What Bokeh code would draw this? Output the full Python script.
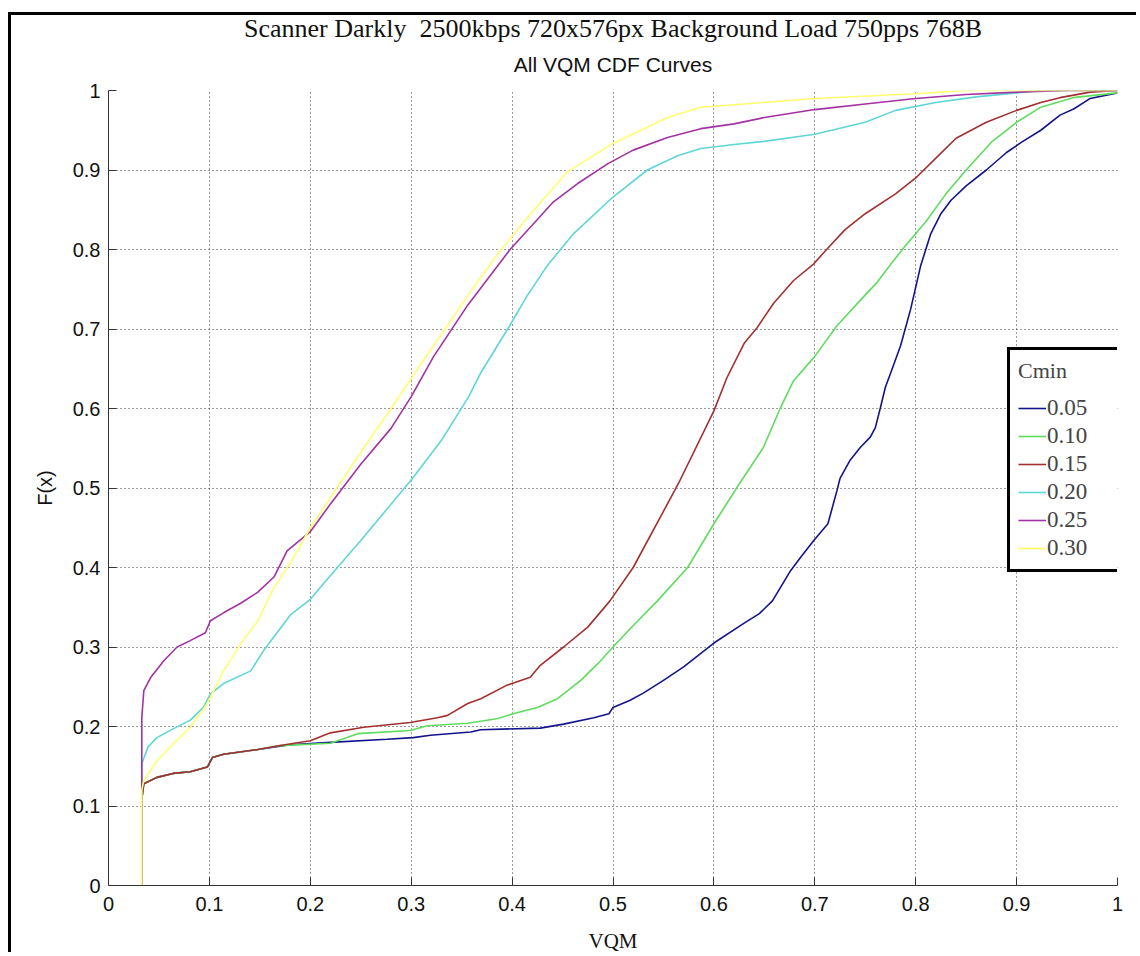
from bokeh.plotting import figure
from bokeh.models import Legend, LegendItem, Title, FixedTicker
from bokeh.embed import file_html
from bokeh.resources import INLINE

# ---- data ----
series_labels = ["0.05", "0.10", "0.15", "0.20", "0.25", "0.30"]
series_colors = ["#14148a", "#5fdc5f", "#a33030", "#5fd6d6", "#a232a2", "#ffff6e"]

x05 = [0.033, 0.033, 0.035, 0.048, 0.064, 0.081, 0.098, 0.103, 0.114, 0.148, 0.18, 0.22, 0.276, 0.302,
       0.319, 0.359, 0.369, 0.428, 0.451, 0.481, 0.496, 0.50, 0.517, 0.53, 0.55, 0.57, 0.6, 0.63, 0.645,
       0.658, 0.676, 0.686, 0.699, 0.713, 0.722, 0.725, 0.735, 0.745, 0.755, 0.76, 0.765, 0.77, 0.775,
       0.785, 0.795, 0.805, 0.815, 0.825, 0.835, 0.85, 0.87, 0.89, 0.905, 0.924, 0.943, 0.957, 0.973, 1.0]
y05 = [0, 0.109, 0.128, 0.136, 0.141, 0.143, 0.149, 0.161, 0.165, 0.171, 0.177, 0.18, 0.184, 0.186,
       0.189, 0.193, 0.196, 0.198, 0.203, 0.211, 0.216, 0.224, 0.233, 0.242, 0.258, 0.275, 0.305, 0.33, 0.342,
       0.358, 0.396, 0.413, 0.434, 0.455, 0.497, 0.512, 0.535, 0.551, 0.564, 0.576, 0.601, 0.627, 0.644,
       0.679, 0.725, 0.78, 0.82, 0.845, 0.862, 0.88, 0.9, 0.922, 0.935, 0.95, 0.969, 0.977, 0.99, 0.997]

x10 = [0.033, 0.033, 0.035, 0.048, 0.064, 0.081, 0.098, 0.103, 0.114, 0.148, 0.17, 0.22, 0.247, 0.299,
       0.316, 0.356, 0.386, 0.401, 0.425, 0.445, 0.468, 0.485, 0.50, 0.517, 0.544, 0.574, 0.60, 0.623,
       0.649, 0.666, 0.679, 0.699, 0.722, 0.745, 0.762, 0.778, 0.79, 0.81, 0.83, 0.85, 0.875, 0.90,
       0.924, 0.956, 1.0]
y10 = [0, 0.109, 0.128, 0.136, 0.141, 0.143, 0.149, 0.161, 0.165, 0.171, 0.176, 0.179, 0.191, 0.195,
       0.201, 0.204, 0.21, 0.216, 0.224, 0.235, 0.258, 0.279, 0.30, 0.323, 0.358, 0.40, 0.455, 0.501,
       0.551, 0.601, 0.635, 0.664, 0.704, 0.736, 0.759, 0.786, 0.805, 0.835, 0.87, 0.9, 0.935, 0.96,
       0.979, 0.991, 0.997]

x15 = [0.033, 0.033, 0.035, 0.048, 0.064, 0.081, 0.098, 0.103, 0.114, 0.148, 0.17, 0.2, 0.22, 0.253,
       0.299, 0.326, 0.336, 0.356, 0.369, 0.395, 0.418, 0.428, 0.451, 0.475, 0.497, 0.52, 0.565, 0.60,
       0.613, 0.63, 0.643, 0.659, 0.679, 0.699, 0.711, 0.73, 0.75, 0.78, 0.80, 0.82, 0.84, 0.87, 0.9,
       0.924, 0.943, 0.973, 1.0]
y15 = [0, 0.109, 0.128, 0.136, 0.141, 0.143, 0.149, 0.161, 0.165, 0.171, 0.176, 0.182, 0.192, 0.199,
       0.205, 0.211, 0.214, 0.229, 0.235, 0.252, 0.262, 0.277, 0.30, 0.325, 0.358, 0.40, 0.506, 0.597,
       0.639, 0.682, 0.702, 0.732, 0.761, 0.782, 0.799, 0.825, 0.845, 0.87, 0.89, 0.915, 0.94, 0.96, 0.975,
       0.985, 0.991, 0.998, 1.0]

x20 = [0.033, 0.033, 0.039, 0.048, 0.064, 0.081, 0.094, 0.101, 0.114, 0.141, 0.154, 0.18, 0.2, 0.22,
       0.25, 0.3, 0.33, 0.357, 0.369, 0.398, 0.415, 0.435, 0.461, 0.50, 0.534, 0.564, 0.587, 0.62, 0.65,
       0.7, 0.75, 0.78, 0.82, 0.86, 0.9, 0.924, 1.0]
y20 = [0, 0.153, 0.174, 0.186, 0.197, 0.208, 0.224, 0.241, 0.254, 0.27, 0.296, 0.34, 0.36, 0.39,
       0.434, 0.51, 0.56, 0.615, 0.645, 0.705, 0.742, 0.78, 0.82, 0.866, 0.9, 0.918, 0.927, 0.932, 0.936,
       0.945, 0.96, 0.975, 0.985, 0.992, 0.997, 1.0, 1.0]

x25 = [0.033, 0.033, 0.035, 0.042, 0.055, 0.068, 0.081, 0.096, 0.101, 0.114, 0.131, 0.148, 0.164, 0.177,
       0.2, 0.22, 0.25, 0.28, 0.3, 0.322, 0.356, 0.398, 0.441, 0.465, 0.495, 0.52, 0.554, 0.587, 0.62,
       0.65, 0.7, 0.75, 0.8, 0.85, 0.9, 0.95, 1.0]
y25 = [0, 0.211, 0.245, 0.262, 0.283, 0.30, 0.308, 0.318, 0.333, 0.343, 0.355, 0.369, 0.388, 0.421,
       0.445, 0.48, 0.53, 0.575, 0.615, 0.665, 0.73, 0.8, 0.86, 0.883, 0.908, 0.925, 0.941, 0.952, 0.958,
       0.966, 0.976, 0.983, 0.99, 0.995, 0.998, 1.0, 1.0]

x30 = [0.033, 0.033, 0.035, 0.048, 0.064, 0.081, 0.098, 0.114, 0.131, 0.148, 0.164, 0.18, 0.2, 0.25,
       0.28, 0.309, 0.332, 0.356, 0.386, 0.415, 0.455, 0.498, 0.554, 0.587, 0.65, 0.7, 0.8, 0.85, 1.0]
y30 = [0, 0.12, 0.132, 0.157, 0.178, 0.199, 0.229, 0.27, 0.304, 0.333, 0.375, 0.405, 0.45, 0.545,
       0.6, 0.655, 0.697, 0.742, 0.795, 0.84, 0.898, 0.932, 0.966, 0.979, 0.985, 0.99, 0.996, 1.0, 1.0]

xs_all = [x05, x10, x15, x20, x25, x30]
ys_all = [y05, y10, y15, y20, y25, y30]

tick_vals = [0, 0.1, 0.2, 0.3, 0.4, 0.5, 0.6, 0.7, 0.8, 0.9, 1]

title1 = "Scanner Darkly\u00a0 2500kbps 720x576px Background Load 750pps 768B"
title2 = "All VQM CDF Curves"

# ---- figure ----
p = figure(width=1128, height=940, x_range=(0, 1), y_range=(0, 1),
           output_backend="svg", toolbar_location=None,
           min_border_left=97, min_border_right=22, min_border_top=75, min_border_bottom=70)
p.styles = {"border-left": "3px solid black", "border-top": "3px solid black",
            "position": "absolute", "left": "8px", "top": "12px"}

p.title.text = title1
p.title.text_font = "Liberation Serif"
p.title.text_font_size = "26px"
p.title.text_font_style = "normal"
p.title.align = "center"
p.title.text_color = "#111111"
p.title.text_line_height = 0.9
p.title.standoff = -14
p.add_layout(Title(text=title2, align="center", text_font="Liberation Sans",
                   text_font_size="21px", text_font_style="normal", text_color="#111111",
                   text_line_height=0.9, standoff=30), "above")

p.outline_line_color = None
p.background_fill_color = "white"
p.border_fill_color = "white"

for ax in (p.xaxis[0], p.yaxis[0]):
    ax.ticker = FixedTicker(ticks=tick_vals)
    ax.major_label_overrides = {0: "0", 1: "1"}
    ax.major_tick_in = 8
    ax.major_tick_out = 0
    ax.minor_tick_line_color = None
    ax.axis_line_color = "#333333"
    ax.major_tick_line_color = "#333333"
    ax.major_label_text_font = "Liberation Sans"
    ax.major_label_text_font_size = "20px"
    ax.major_label_text_color = "#111111"
    ax.axis_label_text_font_style = "normal"
    ax.axis_label_text_color = "#111111"

p.xaxis.axis_label = "VQM"
p.xaxis.axis_label_text_font = "Liberation Serif"
p.xaxis.axis_label_text_font_size = "21px"
p.xaxis.major_label_standoff = 11
p.xaxis.axis_label_standoff = 15
p.yaxis.axis_label = "F(x)"
p.yaxis.axis_label_text_font = "Liberation Sans"
p.yaxis.axis_label_text_font_size = "20px"
p.yaxis.major_label_standoff = 8
p.yaxis.axis_label_standoff = 14

for g in (p.xgrid, p.ygrid):
    g.ticker = FixedTicker(ticks=tick_vals)
    g.grid_line_color = "#222222"
    g.grid_line_dash = "1 3"
    g.grid_line_width = 1
    g.grid_line_alpha = 0.9

items = []
for xs, ys, lab, col in zip(xs_all, ys_all, series_labels, series_colors):
    r = p.line(xs, ys, line_color=col, line_width=1.6)
    items.append(LegendItem(label=lab, renderers=[r]))

legend = Legend(items=items, location=(899, 313), title="Cmin",
                title_text_font="Liberation Serif", title_text_font_size="22px",
                title_text_font_style="normal", title_standoff=11,
                label_text_font="Liberation Serif", label_text_font_size="23px",
                label_height=22, glyph_height=22, glyph_width=28, label_standoff=1,
                label_width=62, spacing=2, padding=8, margin=0,
                border_line_color="black", border_line_width=3, border_line_alpha=1,
                background_fill_color="white", background_fill_alpha=1)
p.add_layout(legend, "center")

open("out.html", "w").write(file_html(p, INLINE))
